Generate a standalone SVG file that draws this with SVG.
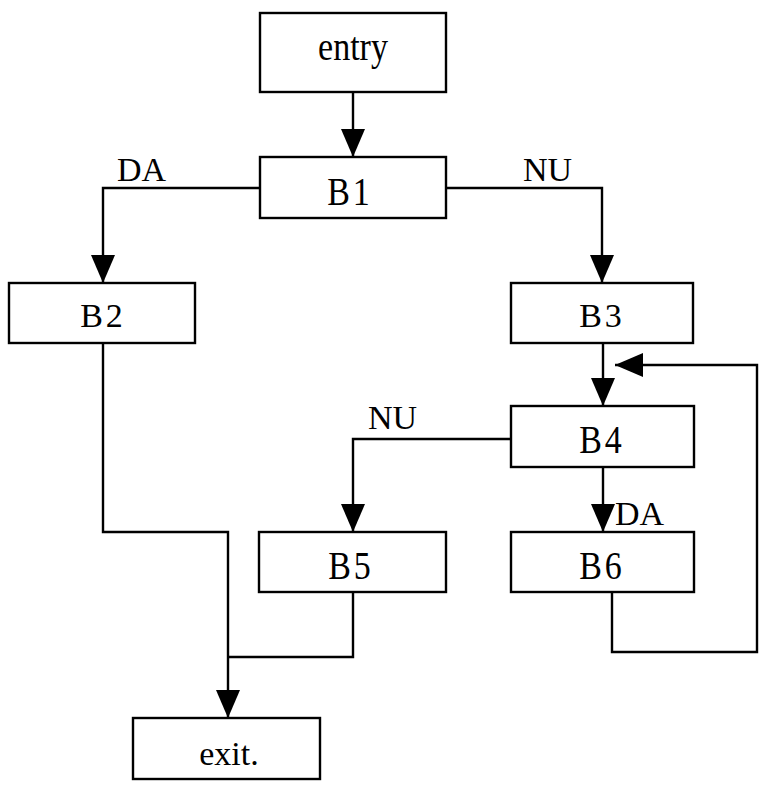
<svg xmlns="http://www.w3.org/2000/svg" width="759" height="786" viewBox="0 0 759 786">
<style>
.box{fill:#fff;stroke:#000;stroke-width:2.4}
.t{font-family:"Liberation Serif","Times New Roman",serif;font-size:34px;fill:#000;text-anchor:middle}
.ts{font-family:"Liberation Serif","Times New Roman",serif;font-size:34px;fill:#000;text-anchor:middle}
.lbl{font-family:"Liberation Serif","Times New Roman",serif;font-size:34px;fill:#000}
.c{fill:none;stroke:#000;stroke-width:2.4}
</style>
<defs>
<marker id="ah" viewBox="0 0 28 24" refX="28" refY="12" markerWidth="28" markerHeight="24" orient="auto" markerUnits="userSpaceOnUse">
<path d="M0,0 L28,12 L0,24 z" fill="#000"/>
</marker>
</defs>
<rect width="759" height="786" fill="#fff"/>
<g id="connectors">
<path class="c" d="M353,92 V157" marker-end="url(#ah)"/>
<path class="c" d="M260,188 H103 V283" marker-end="url(#ah)"/>
<path class="c" d="M446,188 H602 V283" marker-end="url(#ah)"/>
<path class="c" d="M603,343 V406" marker-end="url(#ah)"/>
<path class="c" d="M511,439 H353 V532" marker-end="url(#ah)"/>
<path class="c" d="M603,467 V532" marker-end="url(#ah)"/>
<path class="c" d="M612,592 V652 H757 V365 H615" marker-end="url(#ah)"/>
<path class="c" d="M353,592 V657 H228"/>
<path class="c" d="M103,343 V532 H228 V718" marker-end="url(#ah)"/>
<text class="lbl" x="117" y="181">DA</text>
<text class="lbl" x="523" y="181">NU</text>
<text class="lbl" x="368" y="429">NU</text>
<text class="lbl" x="615" y="525">DA</text>
</g>
<g id="entry">
<rect class="box" x="260" y="13" width="186" height="79"/>
<text class="t" transform="translate(353,60) scale(1,1.2)">entry</text>
</g>
<g id="B1">
<rect class="box" x="260" y="157" width="186" height="61"/>
<text class="t" transform="translate(350,205) scale(1,1.2)" letter-spacing="3">B1</text>
</g>
<g id="B2">
<rect class="box" x="9" y="283" width="186" height="60"/>
<text class="ts" x="103" y="327" letter-spacing="3">B2</text>
</g>
<g id="B3">
<rect class="box" x="511" y="283" width="182" height="60"/>
<text class="ts" x="602" y="327" letter-spacing="3">B3</text>
</g>
<g id="B4">
<rect class="box" x="511" y="406" width="183" height="61"/>
<text class="t" transform="translate(602,453) scale(1,1.2)" letter-spacing="3">B4</text>
</g>
<g id="B5">
<rect class="box" x="259" y="532" width="187" height="60"/>
<text class="t" transform="translate(351,579) scale(1,1.2)" letter-spacing="3">B5</text>
</g>
<g id="B6">
<rect class="box" x="511" y="532" width="183" height="60"/>
<text class="t" transform="translate(602,579) scale(1,1.2)" letter-spacing="3">B6</text>
</g>
<g id="exit">
<rect class="box" x="133" y="718" width="187" height="61"/>
<text class="ts" x="229" y="765">exit.</text>
</g>
</svg>
